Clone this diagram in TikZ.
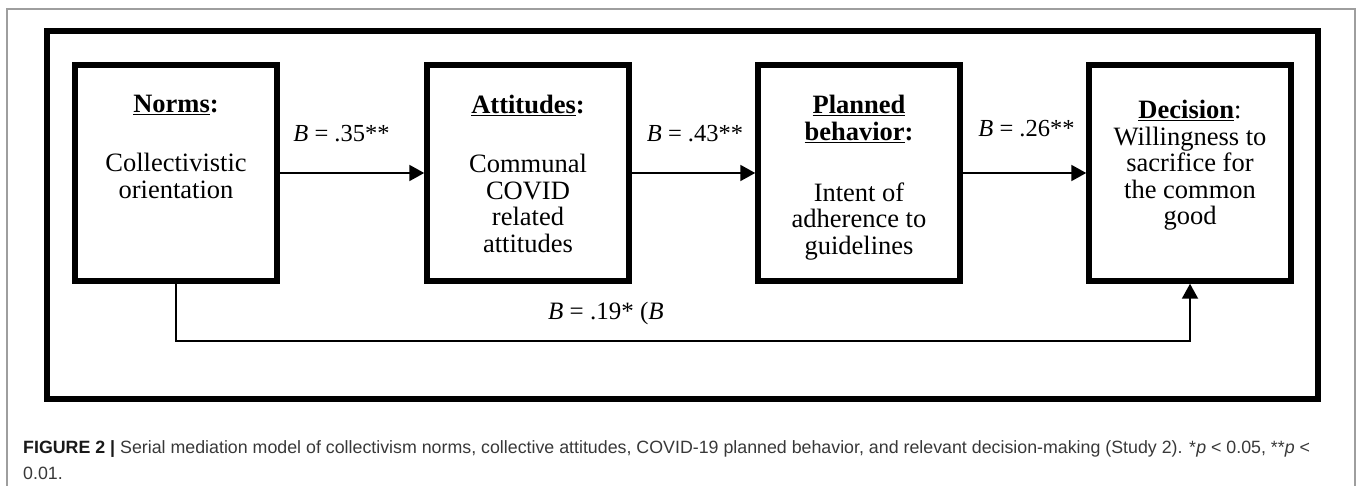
\documentclass[tikz,border=0pt]{standalone}
\usepackage{fontspec}
\setmainfont{Liberation Serif}
\newfontfamily\capfont{Liberation Sans}
\usetikzlibrary{arrows.meta, positioning}

\begin{document}
\begin{tikzpicture}[x=1pt, y=-1pt, >={Triangle[length=15pt, width=16pt]}, node distance=331pt]
    \tikzstyle{box}=[draw, line width=5.5pt, minimum width=202pt, minimum height=216pt, inner sep=0pt]
    \tikzstyle{txt}=[align=center, inner sep=0pt, font=\fontsize{26.5}{26.5}\selectfont]
    \tikzstyle{coef}=[anchor=base, inner sep=0pt, font=\fontsize{24.5}{24.5}\selectfont]
    \tikzstyle{link}=[->, line width=2pt]

    \useasboundingbox (0,0) rectangle (1357,486);

    % frames
    \draw[black!38, line width=1.5pt] (7,486) -- (7,9) -- (1355,9) -- (1355,486);
    \draw[line width=6pt] (47,31) rectangle (1318,399);

    % boxes
    \node[box] (norms) at (176,173) {};
    \node[box, right of=norms, node distance=352pt] (attitudes) {};
    \node[box, right of=attitudes] (planned) {};
    \node[box, right of=planned] (decision) {};

    \node[txt, below=33pt of norms.north] (normstxt)
        {\underline{\textbf{Norms}}\textbf{:}\\[32.5pt]Collectivistic\\orientation};
    \node[txt, below=33pt of attitudes.north] (atttxt)
        {\underline{\textbf{Attitudes}}\textbf{:}\\[32.5pt]Communal\\COVID\\related\\attitudes};
    \node[txt, below=33pt of planned.north] (plantxt)
        {\underline{\textbf{Planned}}\\\underline{\textbf{behavior}}\textbf{:}\\[34.5pt]Intent of\\adherence to\\guidelines};
    \node[txt, below=38pt of decision.north] (dectxt)
        {\underline{\textbf{Decision}}:\\Willingness to\\sacrifice for\\the common\\good};

    % paths
    \draw[link] (norms) -- node[coef, xshift=-10.5pt, yshift=31pt] (b1) {\textit{B} = .35**} (attitudes);
    \draw[link] (attitudes) -- node[coef, xshift=1.5pt, yshift=31pt] (b2) {\textit{B} = .43**} (planned);
    \draw[link] (planned) -- node[coef, xshift=2pt, yshift=36pt] (b3) {\textit{B} = .26**} (decision);

    \coordinate[below=57pt of norms.south] (dip);
    \draw[link] (norms.south) -- (dip) -| node[coef, pos=.212, yshift=21pt, font=\fontsize{25}{25}\selectfont] (b4) {\textit{B} = .19* (\textit{B}} (decision.south);

    % caption
    \node[anchor=north west, inner sep=0pt, align=left, text=black!78,
          font=\capfont\fontsize{17.8}{26}\selectfont] (caption) at (23,440)
        {\textcolor{black!90}{\textbf{FIGURE 2 |}} Serial mediation model of collectivism norms, collective attitudes, COVID-19 planned behavior, and relevant decision-making (Study 2). *\textit{p} < 0.05, **\textit{p} <\\0.01.};
\end{tikzpicture}
\end{document}
